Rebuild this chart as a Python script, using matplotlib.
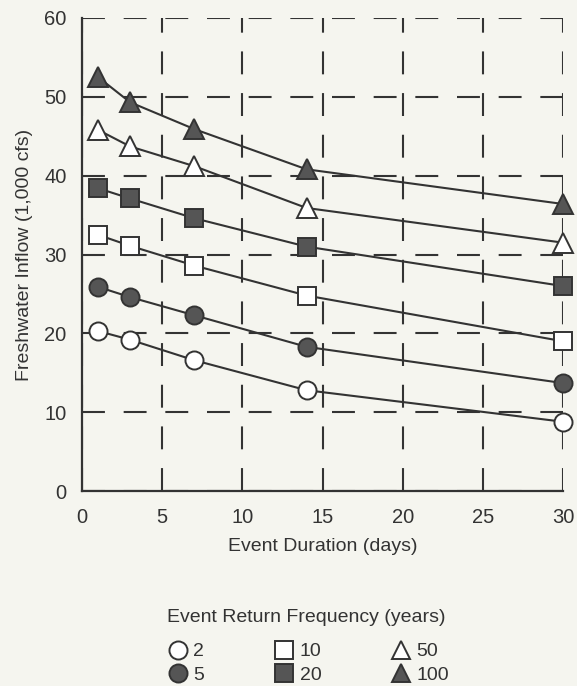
import matplotlib
matplotlib.use("Agg")
import matplotlib.pyplot as plt

plt.rcParams["font.family"] = ["Liberation Sans", "DejaVu Sans"]

# event duration (days)
duration = [1, 3, 7, 14, 30]

# freshwater inflow (1,000 cfs) by return frequency
flow_2 = [20.3, 19.2, 16.6, 12.8, 8.8]
flow_5 = [25.9, 24.6, 22.3, 18.3, 13.7]
flow_10 = [32.5, 31.1, 28.6, 24.8, 19.0]
flow_20 = [38.4, 37.1, 34.6, 31.0, 26.0]
flow_50 = [45.8, 43.7, 41.2, 35.9, 31.5]
flow_100 = [52.5, 49.3, 45.9, 40.8, 36.4]

labels = ["2", "5", "10", "20", "50", "100"]

ink = "#333333"
fill = "#555555"
paper = "#f5f5ef"

fig = plt.figure(figsize=(5.77, 6.86), dpi=100, facecolor=paper)
ax = fig.add_axes([0.142, 0.284, 0.834, 0.690], facecolor=paper)

styles = [
    (flow_2, "o", "white", 13),
    (flow_5, "o", fill, 13),
    (flow_10, "s", "white", 13),
    (flow_20, "s", fill, 13),
    (flow_50, "^", "white", 14),
    (flow_100, "^", fill, 14),
]
for (vals, mk, fc, ms), lab in zip(styles, labels):
    ax.plot(duration, vals, color=ink, lw=1.5, marker=mk, markersize=ms,
            markerfacecolor=fc, markeredgecolor=ink, markeredgewidth=1.4,
            label=lab, clip_on=False, zorder=3)

ax.set_xlim(0, 30)
ax.set_ylim(0, 60)
ax.set_xticks([0, 5, 10, 15, 20, 25, 30])
ax.set_yticks([0, 10, 20, 30, 40, 50, 60])
ax.tick_params(length=0, labelsize=14.5, colors=ink)
ax.tick_params(axis="x", pad=12)
ax.tick_params(axis="y", pad=11)
ax.grid(True, color=ink, lw=1.5, linestyle=(0, (11, 9)))
for s in ["top", "right"]:
    ax.spines[s].set_visible(False)
for s in ["left", "bottom"]:
    ax.spines[s].set_color(ink)
    ax.spines[s].set_linewidth(1.6)

ax.set_xlabel("Event Duration (days)", fontsize=14, color=ink, labelpad=8)
ax.set_ylabel("Freshwater Inflow (1,000 cfs)", fontsize=14, color=ink, labelpad=8)

fig.text(0.53, 1 - 618 / 686, "Event Return Frequency (years)", fontsize=14,
         color=ink, ha="center", va="center")
leg = fig.legend(loc="upper center", bbox_to_anchor=(0.535, 1 - 633 / 686), ncol=3,
                 frameon=False, fontsize=14, handlelength=1.0, borderpad=0.0,
                 handletextpad=0.3, columnspacing=3.6, labelspacing=0.32)
for h in leg.legend_handles:
    h.set_linestyle("none")
    h.set_markersize(13)
for t in leg.get_texts():
    t.set_color(ink)

fig.savefig("out.png", dpi=100, facecolor=paper)
